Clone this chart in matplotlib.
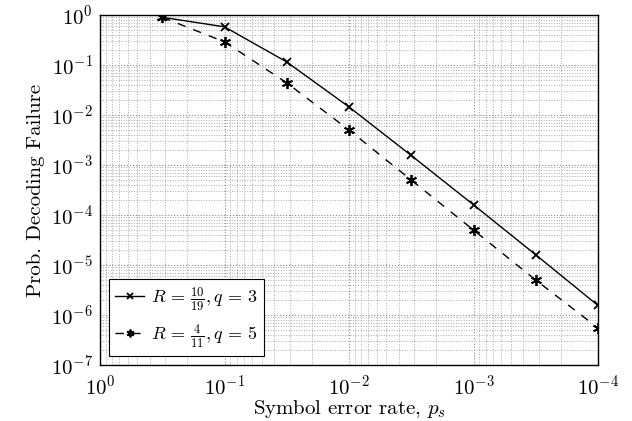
import matplotlib
matplotlib.use("Agg")
import matplotlib.pyplot as plt
import numpy as np

ps = [10**-0.5, 1e-1, 10**-1.5, 1e-2, 10**-2.5, 1e-3, 10**-3.5, 1e-4]
fail_q3 = [0.9, 0.58, 0.115, 0.0145, 1.55e-3, 1.6e-4, 1.6e-5, 1.55e-6]
fail_q5 = [0.9, 0.29, 0.044, 5.0e-3, 5.0e-4, 5.0e-5, 5.0e-6, 5.5e-7]
labels = [r"$R\,=\,\frac{10}{19}, q\,=\,3$", r"$R\,=\,\frac{4}{11}, q\,=\,5$"]

plt.rcParams['mathtext.fontset'] = 'cm'
plt.rcParams['font.family'] = 'serif'
plt.rcParams['font.serif'] = ['cmr10', 'DejaVu Serif']
plt.rcParams['axes.formatter.use_mathtext'] = True

fig = plt.figure(figsize=(6.32, 4.21), dpi=100)
ax = fig.add_axes([100/632, 56/421, 498/632, 350/421])

ax.plot(ps, fail_q3, color='black', lw=1.0, ls='-', marker='x', ms=6, mew=1.3, label=labels[0])
ax.plot(ps, fail_q5, color='black', lw=1.0, ls=(0, (6, 6)), marker=(6, 2, 0), ms=8, mew=1.3, label=labels[1])

ax.set_xscale('log')
ax.set_yscale('log')
ax.set_xlim(1e0, 1e-4)
ax.set_ylim(1e-7, 1e0)
ax.grid(True, which='major', ls=':', color='#888888', lw=0.8)
ax.grid(True, which='minor', ls=':', color='#aaaaaa', lw=0.7)
ax.tick_params(which='both', direction='in', labelsize=15, length=0)
ax.tick_params(axis='x', pad=7)
ax.tick_params(axis='y', pad=5)
for s in ax.spines.values():
    s.set_linewidth(1.0)

ax.set_xlabel(r"Symbol error rate, $p_s$", fontsize=15, labelpad=-1)
ax.set_ylabel("Prob. Decoding Failure", fontsize=15, labelpad=4)

leg = ax.legend(loc='lower left', fontsize=13, fancybox=False, edgecolor='black',
                framealpha=1, handlelength=1.6, handletextpad=0.4, borderpad=0.35,
                labelspacing=0.5, borderaxespad=0.5, markerscale=0.7)
leg.get_frame().set_linewidth(0.8)

fig.savefig("out.png", dpi=100)
